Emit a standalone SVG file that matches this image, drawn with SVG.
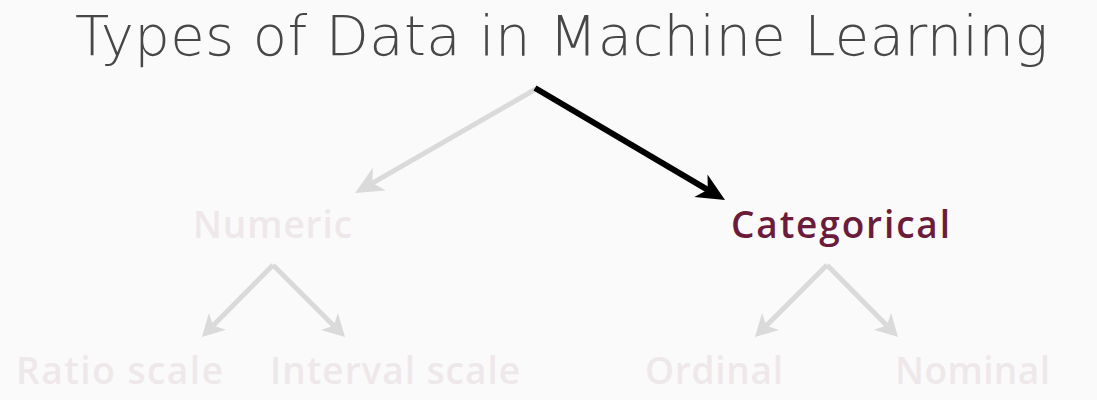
<svg xmlns="http://www.w3.org/2000/svg" width="1097" height="400" viewBox="0 0 1097 400">
<style>
.title{font-family:"DejaVu Sans","Open Sans",sans-serif;font-weight:200;font-size:56px;fill:#474747}
.lbl{font-family:"Open Sans","DejaVu Sans",sans-serif;font-weight:600;font-size:37px;fill:#efe8ea}
.active{fill:#6b1c3b}
.gray{stroke:#dadada;stroke-width:5;fill:none}
.black{stroke:#000;stroke-width:6;fill:none}
</style>
<defs>
<marker id="hg" markerUnits="userSpaceOnUse" orient="auto" refX="8" refY="0" viewBox="0 -14 30 28" markerWidth="30" markerHeight="28" overflow="visible">
<path d="M0,-13 L28,0 L0,13 L8,0 Z" fill="#dadada"/>
</marker>
<marker id="hb" markerUnits="userSpaceOnUse" orient="auto" refX="8" refY="0" viewBox="0 -14 30 28" markerWidth="30" markerHeight="28" overflow="visible">
<path d="M0,-13 L28,0 L0,13 L8,0 Z" fill="#000"/>
</marker>
<marker id="hs" markerUnits="userSpaceOnUse" orient="auto" refX="6" refY="0" viewBox="0 -13 24 26" markerWidth="24" markerHeight="26" overflow="visible">
<path d="M0,-12 L22,0 L0,12 L6,0 Z" fill="#dadada"/>
</marker>
</defs>
<rect x="0" y="0" width="1097" height="400" fill="#fafafa"/>
<g id="connectors">
<line class="gray" x1="536" y1="89" x2="372.4" y2="183.1" marker-end="url(#hg)"/>
<line class="black" x1="535" y1="88" x2="707.8" y2="189.8" marker-end="url(#hb)"/>
<line class="gray" x1="273" y1="265" x2="213.2" y2="325.6" marker-end="url(#hs)"/>
<line class="gray" x1="273" y1="265" x2="333.7" y2="325.7" marker-end="url(#hs)"/>
<line class="gray" x1="827" y1="265" x2="766.3" y2="325.7" marker-end="url(#hs)"/>
<line class="gray" x1="827" y1="265" x2="886.8" y2="325.6" marker-end="url(#hs)"/>
</g>
<g id="title"><text class="title" x="75" y="55" textLength="973">Types of Data in Machine Learning</text></g>
<g id="numeric"><text class="lbl" x="193" y="238" textLength="159">Numeric</text></g>
<g id="categorical"><text class="lbl active" x="731" y="238" textLength="219">Categorical</text></g>
<g id="ratio"><text class="lbl" x="16" y="384" textLength="207">Ratio scale</text></g>
<g id="interval"><text class="lbl" x="270" y="384" textLength="250">Interval scale</text></g>
<g id="ordinal"><text class="lbl" x="645" y="384" textLength="138">Ordinal</text></g>
<g id="nominal"><text class="lbl" x="895" y="384" textLength="155">Nominal</text></g>
</svg>
